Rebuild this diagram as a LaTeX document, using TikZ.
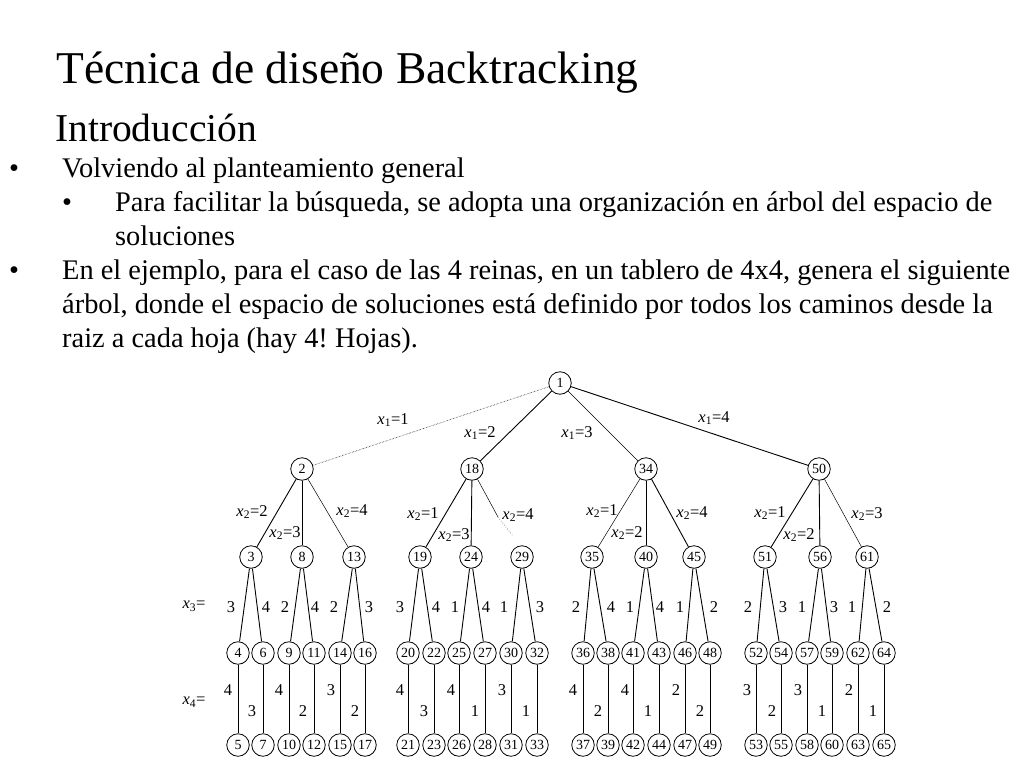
\documentclass[tikz,border=0pt]{standalone}
\usepackage{fontspec}
\setmainfont{Liberation Serif}
\frenchspacing
\begin{document}
\begin{tikzpicture}[x=1pt,y=-1pt]
\tikzset{
  nd/.style={circle,draw,line width=0.8pt,minimum size=22.5pt,inner sep=0pt,font=\fontsize{14}{14}\selectfont},
  ed/.style={line width=0.9pt},
  thin ed/.style={line width=0.5pt},
  lb/.style={font=\fontsize{16.5}{16.5}\selectfont,inner sep=0pt},
  nl/.style={font=\fontsize{16.5}{16.5}\selectfont,inner sep=0pt},
  ttl/.style={anchor=base west,inner sep=0pt,font=\fontsize{45.5}{50}\selectfont},
  sub/.style={anchor=base west,inner sep=0pt,font=\fontsize{39.5}{44}\selectfont},
  txt/.style={anchor=base west,inner sep=0pt,font=\fontsize{28.4}{32}\selectfont},
}
\newcommand{\xv}[2]{\textit{x}\textsubscript{#1}=#2}
\useasboundingbox (0,0) rectangle (1024,768);
\fill[white] (0,0) rectangle (1024,768);
% texts
\node[ttl] (title) at (56,83) {Técnica de diseño Backtracking};
\node[sub] (intro) at (55,141) {Introducción};
\node[txt] (b1) at (9,177) {•};
\node[txt] (t1) at (62,177) {Volviendo al planteamiento general};
\node[txt] (b2) at (62,211) {•};
\node[txt] (t2) at (115,211) {Para facilitar la búsqueda, se adopta una organización en árbol del espacio de};
\node[txt] (t3) at (115,245) {soluciones};
\node[txt] (b3) at (9,279) {•};
\node[txt] (t4) at (62,279) {En el ejemplo, para el caso de las 4 reinas, en un tablero de 4x4, genera el siguiente};
\node[txt] (t5) at (62,313) {árbol, donde el espacio de soluciones está definido por todos los caminos desde la};
\node[txt] (t6) at (62,347) {raiz a cada hoja (hay 4! Hojas).};
% tree nodes
\node[nd] (n1) at (560,383) {1};
\node[nd] (n2) at (302,469) {2};
\node[nd] (n18) at (472,469) {18};
\node[nd] (n34) at (646,469) {34};
\node[nd] (n50) at (819,469) {50};
% level 2
\foreach \n/\x in {3/251,8/302,13/354,19/420,24/471,29/522,35/592,40/646,45/694,51/765,56/820,61/867}
  \node[nd] (n\n) at (\x,557) {\n};
% level 3 and 4
\foreach \a/\b/\x in {4/5/238,6/7/263,9/10/289,11/12/314,14/15/340,16/17/365,
  20/21/408,22/23/434,25/26/459,27/28/485,30/31/511,32/33/537,
  36/37/583,38/39/608,41/42/633,43/44/659,46/47/685,48/49/710,
  52/53/756,54/55/781,57/58/807,59/60/832,62/63/858,64/65/884}{
  \node[nd] (n\a) at (\x,653) {\a};
  \node[nd] (n\b) at (\x,745) {\b};
  \draw[ed] (n\a) -- (n\b);
}
% level-1 edges
\draw[thin ed,densely dotted] (n1) -- (n2);
\draw[ed] (n1) -- (n18);
\draw[thin ed] (n1) -- (n34);
\draw[ed] (n1) -- (n50);
% level-2 edges
\draw[ed] (n2) -- (n3);
\draw[ed] (n2) -- (n8);
\draw[thin ed] (n2) -- (n13);
\draw[ed] (n18) -- (n19);
\draw[ed] (n18) -- (n24);
\coordinate (c29a) at (498,517);
\coordinate (c29b) at (513,536);
\draw[thin ed] (n18) -- (c29a);
\draw[thin ed,dotted] (c29a) -- (c29b);
\draw[thin ed] (n34) -- (n35);
\draw[ed] (n34) -- (n40);
\draw[ed] (n34) -- (n45);
\draw[ed] (n50) -- (n51);
\draw[ed] (n50) -- (n56);
\draw[thin ed] (n50) -- (n61);
% level-3 edges
\foreach \p/\l/\r in {3/4/6,8/9/11,13/14/16,19/20/22,24/25/27,29/30/32,35/36/38,40/41/43,45/46/48,51/52/54,56/57/59,61/62/64}{
  \draw[ed] (n\p) -- (n\l);
  \draw[ed] (n\p) -- (n\r);
}
% level-1 labels
\node[lb] (l11) at (393,420) {\xv{1}{1}};
\node[lb] (l12) at (480,433) {\xv{1}{2}};
\node[lb] (l13) at (577,433) {\xv{1}{3}};
\node[lb] (l14) at (714,418) {\xv{1}{4}};
% level-2 labels
\foreach \i/\x/\y/\v in {a/252/512/2,b/285/533/3,c/352/511/4,d/423/514/1,e/454/535/3,f/518/515/4,
  g/602/511/1,h/627/533/2,i/692/513/4,j/770/513/1,k/799/535/2,m/867/514/3}
  \node[lb] (l2\i) at (\x,\y) {\xv{2}{\v}};
% level labels
\node[lb] (lx3) at (194,606) {\xv{3}{}};
\node[lb] (lx4) at (194,702) {\xv{4}{}};
% level-3 labels
\foreach \i/\x/\v in {1/231/3,2/266/4,3/285/2,4/315/4,5/334/2,6/369/3,
  7/400/3,8/436/4,9/455/1,10/486/4,11/504/1,12/540/3,
  13/576/2,14/611/4,15/630/1,16/660/4,17/680/1,18/714/2,
  19/748/2,20/783/3,21/802/1,22/834/3,23/852/1,24/887/2}
  \node[nl] (l3\i) at (\x,607) {\v};
% level-4 labels
\foreach \i/\x/\v in {1/228/4,3/279/4,5/331/3,7/400/4,9/451/4,11/502/3,13/573/4,15/625/4,17/676/2,19/747/3,21/798/3,23/849/2}
  \node[nl] (l4\i) at (\x,690) {\v};
\foreach \i/\x/\v in {2/252/3,4/303/2,6/355/2,8/424/3,10/475/1,12/526/1,14/598/2,16/648/1,18/700/2,20/772/2,22/822/1,24/873/1}
  \node[nl] (l4\i) at (\x,711) {\v};
\end{tikzpicture}
\end{document}
